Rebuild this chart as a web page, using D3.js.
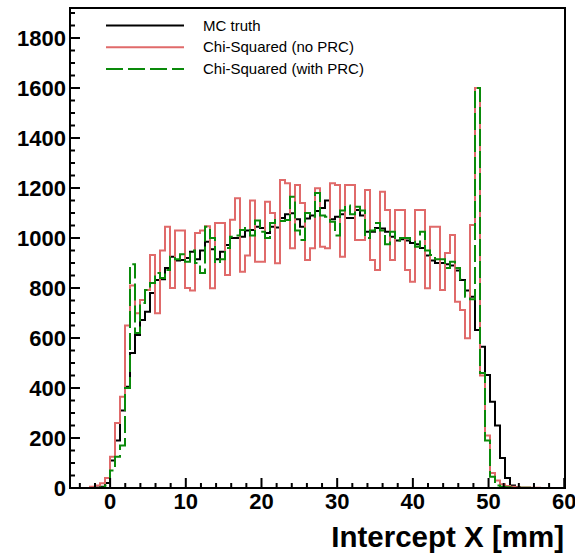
<!DOCTYPE html>
<html>
<head>
<meta charset="utf-8">
<script src="https://cdn.jsdelivr.net/npm/d3@7"></script>
<style>
  body { margin: 0; background: #fff; }
  text { font-family: "Liberation Sans", Arial, sans-serif; }
</style>
</head>
<body>
<div id="chart"></div>
<script>
// histogram binning (mm)
const xMin = -5.3, xMax = 60.1, nBins = 99;

// bin contents, first bin starts at xMin
const mcTruth = [0,0,0,0,0,2,5,20,110,190,310,405,540,612,672,705,780,832,835,880,
  925,910,912,920,945,915,950,985,955,915,945,972,1000,1000,1005,1030,1032,1045,1040,1020,
  1045,1042,1080,1095,1099,1075,1045,1078,1090,1108,1120,1150,1075,1085,1095,1080,1080,1112,1090,1025,
  1025,1040,1038,1025,1005,990,995,990,980,975,960,930,910,900,900,895,890,870,832,790,
  765,632,565,452,345,250,120,40,10,3,0,0,0,0,0,0,0,0,0];
const chiNoPRC = [0,0,0,0,5,10,19,40,125,260,365,650,810,699,752,792,932,699,950,1045,
  800,1030,1030,800,790,1020,1030,1047,799,1060,1060,852,1073,1159,865,930,1150,905,905,1145,
  1100,899,1232,1219,959,1212,1140,912,959,1199,965,959,1219,1212,925,1212,1212,992,992,1192,
  912,872,1185,1112,912,1112,1112,872,825,1112,1112,799,1045,1045,792,940,1012,745,712,599,
  1052,1600,450,210,60,30,15,8,5,3,2,2,1,1,0,0,0,0,0];
const chiPRC = [0,0,0,0,0,0,2,10,70,125,170,400,895,620,740,792,820,860,840,872,
  925,915,935,905,950,900,860,1045,1000,900,915,960,1005,1010,1032,1040,1010,1070,1025,1000,
  1060,1072,1068,1072,1165,1030,992,1100,1085,1180,1090,1085,1065,1010,1110,1130,1095,1125,1110,1000,
  1030,1060,1030,975,1025,990,1000,1000,985,965,1025,950,932,915,915,880,905,880,835,765,
  755,1600,460,190,45,10,5,3,2,1,1,1,0,0,0,0,0,0,0];

const seriesNames = ["MC truth", "Chi-Squared (no PRC)", "Chi-Squared (with PRC)"];
const xTicks = [0, 10, 20, 30, 40, 50, 60];
const yTicks = [0, 200, 400, 600, 800, 1000, 1200, 1400, 1600, 1800];

const W = 575, H = 557;
const margin = {left: 70, right: 10, top: 8, bottom: 69};

const svg = d3.select("#chart").append("svg")
  .attr("width", W).attr("height", H);

const x = d3.scaleLinear().domain([xMin, xMax]).range([margin.left, W - margin.right]);
const y = d3.scaleLinear().domain([0, 1920]).range([H - margin.bottom, margin.top]);
const binW = (xMax - xMin) / nBins;

// step path of a histogram
function stepPath(vals) {
  let pts = [[xMin, 0]];
  vals.forEach((v, i) => {
    pts.push([xMin + i * binW, v]);
    pts.push([xMin + (i + 1) * binW, v]);
  });
  pts.push([xMax, 0]);
  return d3.line().x(d => x(d[0])).y(d => y(d[1]))(pts);
}

const styles = [
  {data: mcTruth, color: "#000000", dash: null},
  {data: chiNoPRC, color: "#e06a6a", dash: null},
  {data: chiPRC, color: "#0a8a0a", dash: "17,5"}
];

svg.append("clipPath").attr("id", "frame")
  .append("rect")
  .attr("x", x(xMin)).attr("y", y(1920))
  .attr("width", x(xMax) - x(xMin)).attr("height", y(0) - y(1920));

const g = svg.append("g").attr("clip-path", "url(#frame)");
// draw order: truth, no PRC, with PRC on top
styles.forEach(s => {
  g.append("path")
    .attr("d", stepPath(s.data))
    .attr("fill", "none")
    .attr("stroke", s.color)
    .attr("stroke-width", 2)
    .attr("stroke-dasharray", s.dash);
});

// frame
svg.append("rect")
  .attr("x", x(xMin)).attr("y", y(1920))
  .attr("width", x(xMax) - x(xMin)).attr("height", y(0) - y(1920))
  .attr("fill", "none").attr("stroke", "#000").attr("stroke-width", 2);

// y axis ticks
const yMinor = d3.range(0, 1920, 50);
svg.append("g").selectAll("line").data(yMinor).join("line")
  .attr("x1", x(xMin))
  .attr("x2", d => x(xMin) + (d % 200 === 0 ? 10 : 5))
  .attr("y1", d => y(d)).attr("y2", d => y(d))
  .attr("stroke", "#000").attr("stroke-width", 2);
svg.append("g").selectAll("text").data(yTicks).join("text")
  .attr("x", x(xMin) - 4)
  .attr("y", d => y(d) + 8)
  .attr("text-anchor", "end")
  .attr("font-size", 22).attr("font-weight", "bold")
  .text(d => d);

// x axis ticks
const xMinor = d3.range(-4, 61, 2);
svg.append("g").selectAll("line").data(xMinor).join("line")
  .attr("x1", d => x(d)).attr("x2", d => x(d))
  .attr("y1", y(0))
  .attr("y2", d => y(0) - (d % 10 === 0 ? 10 : 5))
  .attr("stroke", "#000").attr("stroke-width", 2);
svg.append("g").selectAll("text").data(xTicks).join("text")
  .attr("x", d => x(d))
  .attr("y", 509)
  .attr("text-anchor", "middle")
  .attr("font-size", 22).attr("font-weight", "bold")
  .text(d => d);

svg.append("text")
  .attr("x", 564).attr("y", 547)
  .attr("text-anchor", "end")
  .attr("font-size", 29.5).attr("font-weight", "bold")
  .text("Intercept X [mm]");

// legend
const leg = svg.append("g");
styles.forEach((s, i) => {
  const ly = 25.5 + i * 21.8;
  leg.append("line")
    .attr("x1", 106).attr("x2", 184)
    .attr("y1", ly).attr("y2", ly)
    .attr("stroke", s.color).attr("stroke-width", 2)
    .attr("stroke-dasharray", s.dash);
  leg.append("text")
    .attr("x", 203).attr("y", ly + 5)
    .attr("font-size", 15)
    .text(seriesNames[i]);
});
</script>
</body>
</html>
